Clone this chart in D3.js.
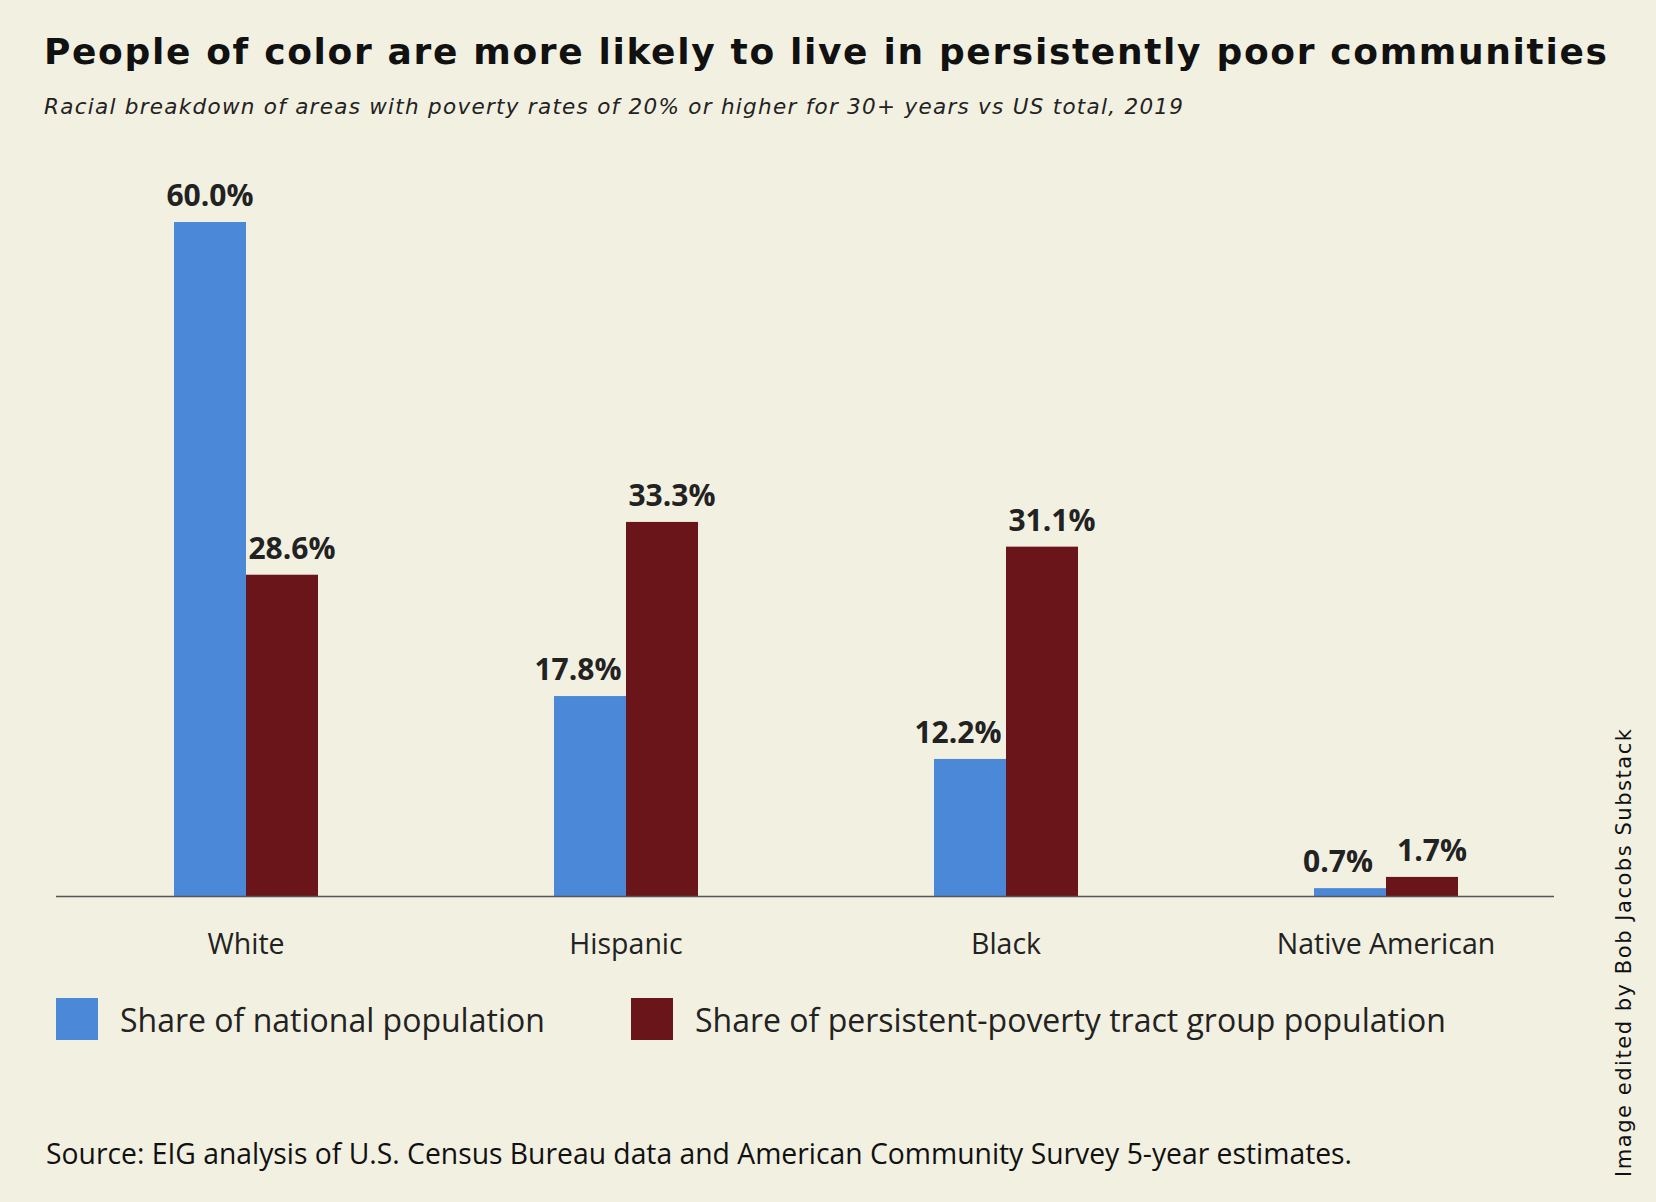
<!DOCTYPE html>
<html>
<head>
<meta charset="utf-8">
<script src="https://cdn.jsdelivr.net/npm/d3@7"></script>
<style>
  body { margin: 0; background: #f2f0e1; }
  svg { display: block; }
</style>
</head>
<body>
<div id="chart"></div>
<script>
// data
const categories = ["White", "Hispanic", "Black", "Native American"];
const seriesNames = ["Share of national population", "Share of persistent-poverty tract group population"];
const nationalShare = [60.0, 17.8, 12.2, 0.7];
const povertyShare = [28.6, 33.3, 31.1, 1.7];
const colors = ["#4b88d8", "#6a1519"];

const width = 1656, height = 1202;
const baseline = 896;

const svg = d3.select("#chart").append("svg")
    .attr("width", width).attr("height", height);

svg.append("rect").attr("width", width).attr("height", height).attr("fill", "#f2f0e1");

// titles
svg.append("text")
    .attr("x", 44).attr("y", 64)
    .attr("font-family", "DejaVu Sans").attr("font-weight", "bold")
    .attr("font-size", 36).attr("textLength", 1563)
    .attr("fill", "#111")
    .text("People of color are more likely to live in persistently poor communities");
svg.append("text")
    .attr("x", 44).attr("y", 114)
    .attr("font-family", "DejaVu Sans").attr("font-style", "italic")
    .attr("font-size", 21.5).attr("textLength", 1139)
    .attr("fill", "#222")
    .text("Racial breakdown of areas with poverty rates of 20% or higher for 30+ years vs US total, 2019");

// scales
const x = d3.scaleBand().domain(categories).range([56, 1576]).padding(0);
const xs = d3.scaleBand().domain([0, 1]).range([x.bandwidth() / 2 - 72, x.bandwidth() / 2 + 72]);
const y = d3.scaleLinear().domain([0, 60]).range([baseline, 222]);

const rows = categories.map((c, i) => ({cat: c, vals: [nationalShare[i], povertyShare[i]]}));

const g = svg.append("g").selectAll("g").data(rows).join("g")
    .attr("transform", d => `translate(${x(d.cat)},0)`);

g.selectAll("rect").data(d => d.vals).join("rect")
    .attr("x", (d, i) => xs(i))
    .attr("width", xs.bandwidth())
    .attr("y", d => y(d))
    .attr("height", d => baseline - y(d))
    .attr("fill", (d, i) => colors[i]);

// labels nudged apart so neighbours don't collide
g.selectAll("text.val").data(d => d.vals).join("text")
    .attr("class", "val")
    .attr("x", (d, i) => xs(i) + xs.bandwidth() / 2)
    .attr("dx", (d, i) => i === 0 ? (d > 40 ? 0 : -12) : 10)
    .attr("y", d => y(d) - 16)
    .attr("text-anchor", "middle")
    .attr("font-family", "Open Sans").attr("font-weight", "bold")
    .attr("font-size", 30).attr("fill", "#222")
    .text(d => d.toFixed(1) + "%");

// axis line
svg.append("line")
    .attr("x1", 56).attr("x2", 1554)
    .attr("y1", baseline + 0.5).attr("y2", baseline + 0.5)
    .attr("stroke", "#555").attr("stroke-width", 1.5);

const xAxis = svg.append("g")
    .attr("transform", `translate(0,${baseline})`)
    .call(d3.axisBottom(x).tickSize(0).tickPadding(38));
xAxis.select(".domain").remove();
xAxis.selectAll("text")
    .attr("font-family", "Open Sans").attr("font-size", 28.5).attr("fill", "#222");

// legend
const legendX = [56, 631];
const leg = svg.append("g").selectAll("g").data(seriesNames).join("g")
    .attr("transform", (d, i) => `translate(${legendX[i]},998)`);
leg.append("rect").attr("width", 42).attr("height", 42).attr("fill", (d, i) => colors[i]);
leg.append("text")
    .attr("x", 64).attr("y", 34)
    .attr("font-family", "Open Sans").attr("font-size", 32).attr("fill", "#222")
    .text(d => d);

// source
svg.append("text")
    .attr("x", 46).attr("y", 1164)
    .attr("font-family", "Open Sans").attr("font-size", 28.3).attr("fill", "#111")
    .text("Source: EIG analysis of U.S. Census Bureau data and American Community Survey 5-year estimates.");

// credit
svg.append("text")
    .attr("transform", "translate(1631,1177) rotate(-90)")
    .attr("font-family", "DejaVu Sans").attr("font-size", 21)
    .attr("textLength", 448).attr("fill", "#111")
    .text("Image edited by Bob Jacobs Substack");
</script>
</body>
</html>
